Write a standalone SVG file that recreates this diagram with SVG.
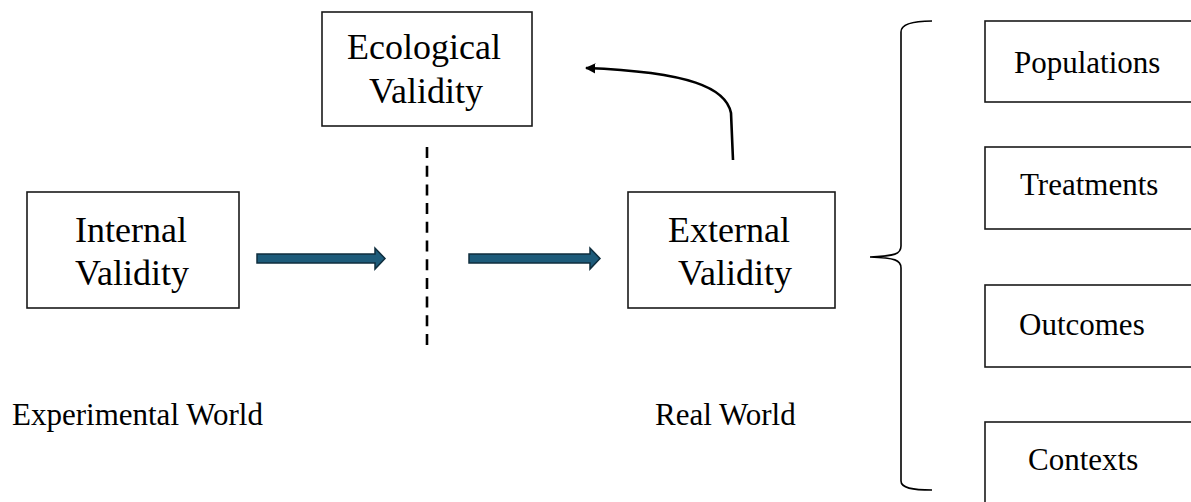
<svg xmlns="http://www.w3.org/2000/svg" width="1191" height="502" viewBox="0 0 1191 502">
  <defs>
    <style>
      .box { fill: #ffffff; stroke: #1a1a1a; stroke-width: 1.6; }
      .big { font-family: "Liberation Serif", "Times New Roman", serif; font-size: 36px; fill: #000; }
      .mid { font-family: "Liberation Serif", "Times New Roman", serif; font-size: 31px; fill: #000; }
      .blk { fill: #1d5b7a; stroke: #0f2e3e; stroke-width: 1.5; }
    </style>
    <marker id="ah" viewBox="0 0 10 10" refX="9" refY="5" markerWidth="4" markerHeight="4" orient="auto-start-reverse" markerUnits="strokeWidth">
      <path d="M0,0 L10,5 L0,10 z" fill="#000"/>
    </marker>
  </defs>
  <rect width="1191" height="502" fill="#ffffff"/>

  <g id="internal-validity">
    <rect class="box" x="27" y="192" width="212" height="116"/>
    <text class="big" x="131" y="242" text-anchor="middle">Internal</text>
    <text class="big" x="132" y="285" text-anchor="middle">Validity</text>
  </g>

  <g id="ecological-validity">
    <rect class="box" x="322" y="12" width="210" height="114"/>
    <text class="big" x="424" y="59" text-anchor="middle">Ecological</text>
    <text class="big" x="426" y="103" text-anchor="middle">Validity</text>
  </g>

  <g id="external-validity">
    <rect class="box" x="628" y="192" width="207" height="116"/>
    <text class="big" x="729" y="242" text-anchor="middle">External</text>
    <text class="big" x="735" y="285" text-anchor="middle">Validity</text>
  </g>

  <g id="populations">
    <rect class="box" x="985" y="21" width="220" height="81"/>
    <text class="mid" x="1014" y="73">Populations</text>
  </g>
  <g id="treatments">
    <rect class="box" x="985" y="147" width="220" height="82"/>
    <text class="mid" x="1020" y="195">Treatments</text>
  </g>
  <g id="outcomes">
    <rect class="box" x="985" y="285" width="220" height="82"/>
    <text class="mid" x="1019" y="335">Outcomes</text>
  </g>
  <g id="contexts">
    <rect class="box" x="985" y="422" width="220" height="100"/>
    <text class="mid" x="1028" y="470">Contexts</text>
  </g>

  <g id="labels">
    <text class="mid" x="12" y="425">Experimental World</text>
    <text class="mid" x="655" y="425">Real World</text>
  </g>

  <g id="connectors">
    <polygon class="blk" points="257,254 375,254 375,248 385,258.5 375,269 375,263 257,263"/>
    <polygon class="blk" points="469,254 590,254 590,248 600,258.5 590,269 590,263 469,263"/>
    <line x1="427" y1="147" x2="427" y2="345" stroke="#000" stroke-width="2.6" stroke-dasharray="11 7.7"/>
    <path d="M 733 160 L 731 113 C 726 88 690 72 586 68" fill="none" stroke="#000" stroke-width="2.6" marker-end="url(#ah)"/>
    <path d="M 932 21 C 912 21 901 24 901 32 L 901 246 C 901 254 895 256 870 257 C 895 258 901 260 901 268 L 901 481 C 901 488 912 490 932 490" fill="none" stroke="#000" stroke-width="1.6"/>
  </g>
</svg>
